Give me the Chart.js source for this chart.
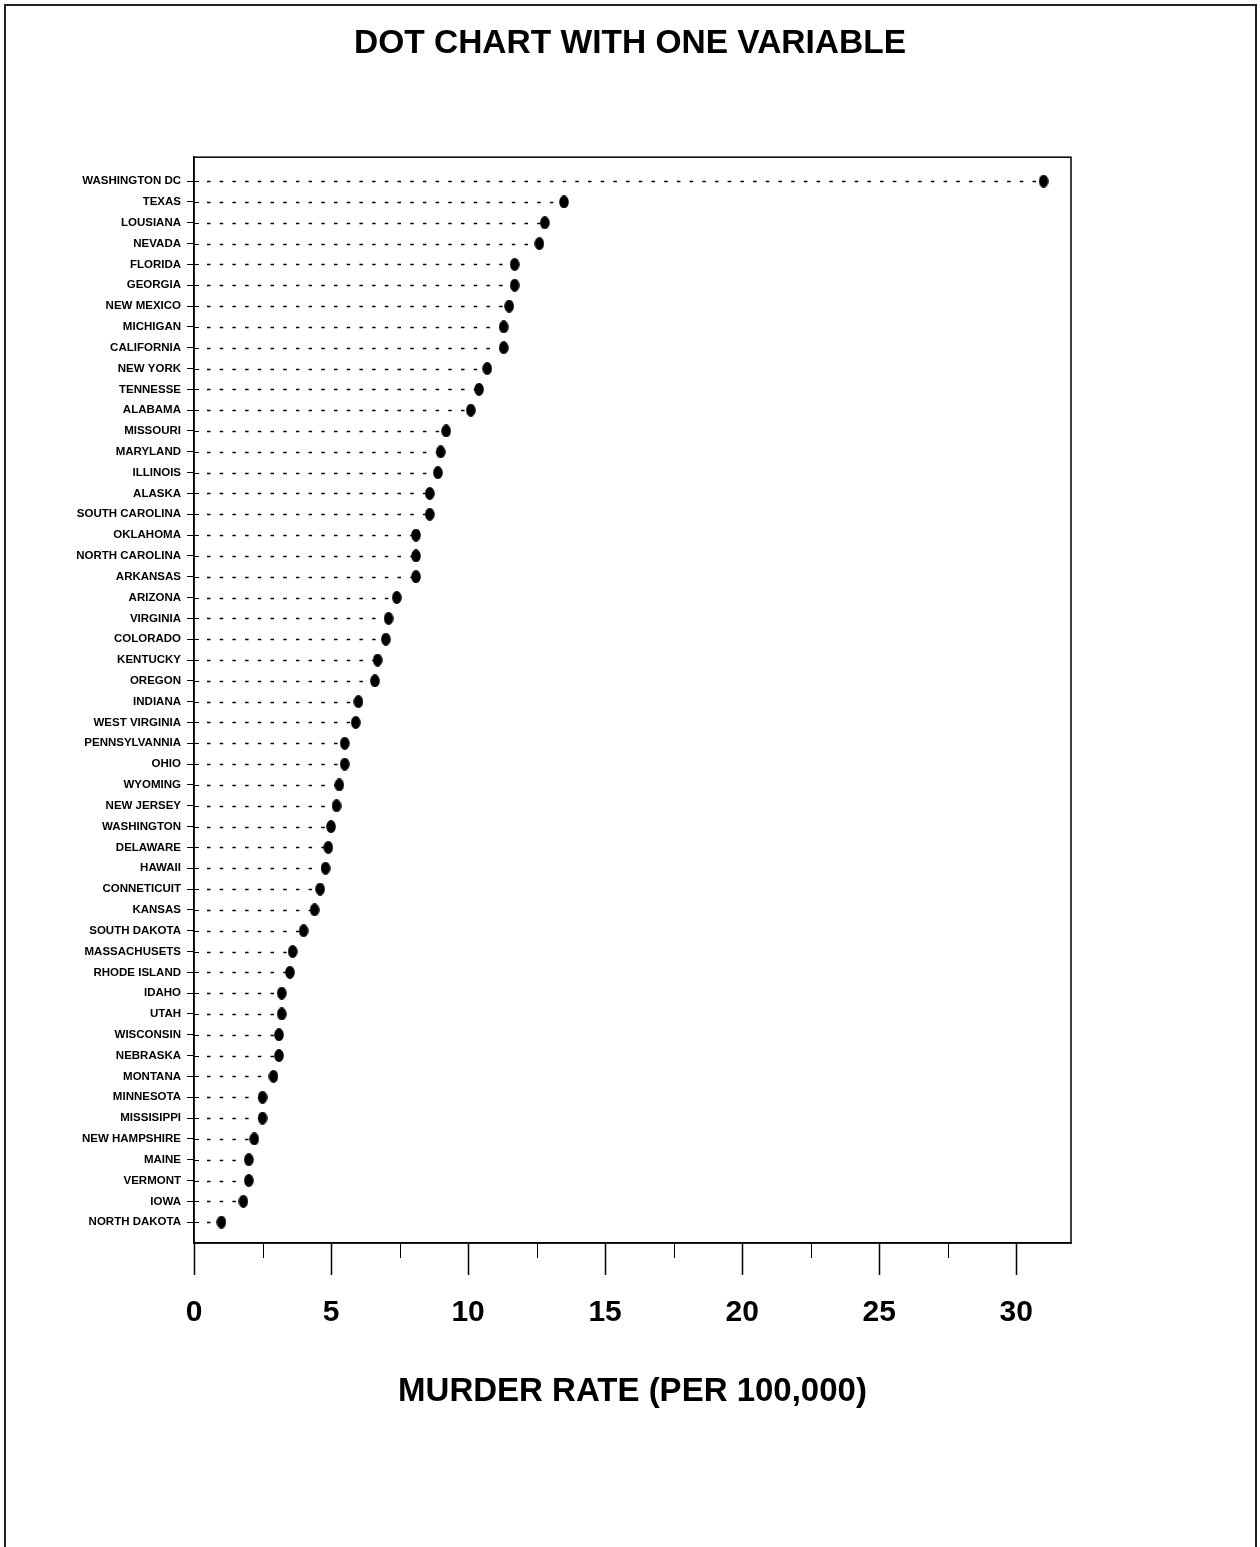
<!DOCTYPE html>
<html>
<head>
<meta charset="utf-8">
<script src="https://cdn.jsdelivr.net/npm/chart.js@4"></script>
<style>
  body { margin: 0; background: #fff; }
</style>
</head>
<body>
<canvas id="dotChart" width="1260" height="1547"></canvas>
<script>
// données (taux pour 100 000)
const states = [
  'WASHINGTON DC', 'TEXAS', 'LOUSIANA', 'NEVADA', 'FLORIDA', 'GEORGIA', 'NEW MEXICO',
  'MICHIGAN', 'CALIFORNIA', 'NEW YORK', 'TENNESSE', 'ALABAMA', 'MISSOURI', 'MARYLAND',
  'ILLINOIS', 'ALASKA', 'SOUTH CAROLINA', 'OKLAHOMA', 'NORTH CAROLINA', 'ARKANSAS',
  'ARIZONA', 'VIRGINIA', 'COLORADO', 'KENTUCKY', 'OREGON', 'INDIANA', 'WEST VIRGINIA',
  'PENNSYLVANNIA', 'OHIO', 'WYOMING', 'NEW JERSEY', 'WASHINGTON', 'DELAWARE', 'HAWAII',
  'CONNETICUIT', 'KANSAS', 'SOUTH DAKOTA', 'MASSACHUSETS', 'RHODE ISLAND', 'IDAHO',
  'UTAH', 'WISCONSIN', 'NEBRASKA', 'MONTANA', 'MINNESOTA', 'MISSISIPPI',
  'NEW HAMPSHIRE', 'MAINE', 'VERMONT', 'IOWA', 'NORTH DAKOTA'
];
const rates = [
  31.0, 13.5, 12.8, 12.6, 11.7, 11.7, 11.5,
  11.3, 11.3, 10.7, 10.4, 10.1, 9.2, 9.0,
  8.9, 8.6, 8.6, 8.1, 8.1, 8.1,
  7.4, 7.1, 7.0, 6.7, 6.6, 6.0, 5.9,
  5.5, 5.5, 5.3, 5.2, 5.0, 4.9, 4.8,
  4.6, 4.4, 4.0, 3.6, 3.5, 3.2,
  3.2, 3.1, 3.1, 2.9, 2.5, 2.5,
  2.2, 2.0, 2.0, 1.8, 1.0
];
const xMajorTicks = [0, 5, 10, 15, 20, 25, 30];
const xMinorTicks = [2.5, 7.5, 12.5, 17.5, 22.5, 27.5];

const FONT = "'Liberation Sans', Arial, sans-serif";

// le point : une ellipse noire un peu plus haute que large
const dot = document.createElement('canvas');
dot.width = 10; dot.height = 13;
const dctx = dot.getContext('2d');
dctx.fillStyle = '#000';
dctx.beginPath();
dctx.ellipse(5, 6.5, 4.8, 6.4, 0, 0, Math.PI * 2);
dctx.fill();

const dotPlugin = {
  id: 'dotExtras',
  beforeDraw(chart) {
    const c = chart.ctx;
    c.save();
    c.fillStyle = '#fff';
    c.fillRect(0, 0, chart.width, chart.height);
    // cadre extérieur (pas de bord en bas)
    c.strokeStyle = '#222';
    c.lineWidth = 2;
    c.beginPath();
    c.moveTo(5, chart.height);
    c.lineTo(5, 5);
    c.lineTo(chart.width - 4, 5);
    c.lineTo(chart.width - 4, chart.height);
    c.stroke();
    c.restore();
  },
  beforeDatasetsDraw(chart) {
    const { ctx: c, chartArea: a, scales: { x, y } } = chart;
    // lignes pointillées de l'axe jusqu'au point
    c.save();
    c.strokeStyle = '#000';
    c.lineWidth = 1.4;
    c.setLineDash([3.5, 9.2]);
    rates.forEach((v, i) => {
      const py = Math.round(y.getPixelForValue(i)) + 0.5;
      const px = x.getPixelForValue(v);
      if (px > a.left + 13) {
        c.beginPath();
        c.moveTo(a.left + 13, py);
        c.lineTo(px, py);
        c.stroke();
      }
    });
    c.restore();
  },
  afterDraw(chart) {
    const { ctx: c, chartArea: a, scales: { x, y } } = chart;
    c.save();
    c.strokeStyle = '#000';
    c.lineWidth = 1.5;
    c.strokeRect(a.left, a.top, a.right - a.left, a.bottom - a.top);
    // petites graduations de l'axe X
    c.beginPath();
    xMinorTicks.forEach(v => {
      const px = Math.round(x.getPixelForValue(v)) + 0.5;
      c.moveTo(px, a.bottom);
      c.lineTo(px, a.bottom + 15);
    });
    // les graduations Y traversent l'axe
    c.lineWidth = 1;
    states.forEach((_, i) => {
      const py = Math.round(y.getPixelForValue(i)) + 0.5;
      c.moveTo(a.left, py);
      c.lineTo(a.left + 5, py);
    });
    c.stroke();
    c.restore();
  }
};

const chart = new Chart(document.getElementById('dotChart').getContext('2d'), {
  type: 'scatter',
  data: {
    datasets: [{
      data: rates.map((v, i) => ({ x: v, y: i })),
      pointStyle: dot,
      pointRadius: 6,
      pointHoverRadius: 6,
      showLine: false
    }]
  },
  options: {
    responsive: false,
    animation: false,
    layout: { padding: 0 },
    plugins: {
      legend: { display: false },
      tooltip: { enabled: false },
      title: {
        display: true,
        text: 'DOT CHART WITH ONE VARIABLE',
        color: '#000',
        font: { family: FONT, size: 33.5, weight: 'bold', lineHeight: 1.2 },
        padding: { top: 24, bottom: 93 }
      }
    },
    scales: {
      x: {
        type: 'linear',
        min: 0,
        max: 32,
        afterBuildTicks: s => { s.ticks = xMajorTicks.map(v => ({ value: v })); },
        afterFit: s => { s.height = 304; },
        border: { display: true, color: '#000', width: 1.5 },
        grid: { drawOnChartArea: false, tickLength: 32, tickColor: '#000', tickWidth: 1.5 },
        ticks: {
          color: '#000',
          padding: 20,
          font: { family: FONT, size: 30, weight: 'bold' },
          callback: v => String(v)
        },
        title: {
          display: true,
          text: 'MURDER RATE (PER 100,000)',
          color: '#000',
          font: { family: FONT, size: 33, weight: 'bold', lineHeight: 1.2 },
          padding: { top: 0, bottom: 135 }
        }
      },
      y: {
        type: 'linear',
        reverse: true,
        min: -1.15,
        max: 51,
        afterBuildTicks: s => { s.ticks = states.map((_, i) => ({ value: i })); },
        afterFit: s => { s.width = 194; },
        border: { display: true, color: '#000', width: 1.5 },
        grid: { drawOnChartArea: false, tickLength: 7, tickColor: '#000', tickWidth: 1 },
        ticks: {
          autoSkip: false,
          color: '#000',
          padding: 6,
          font: { family: FONT, size: 11.5, weight: 'bold' },
          callback: v => states[v]
        }
      },
      // axe vide à droite : réserve la marge pour que le titre reste centré sur la page
      yRight: {
        type: 'linear',
        position: 'right',
        afterFit: s => { s.width = 189; },
        border: { display: false },
        grid: { display: false },
        ticks: { display: false }
      }
    }
  },
  plugins: [dotPlugin]
});
</script>
</body>
</html>
